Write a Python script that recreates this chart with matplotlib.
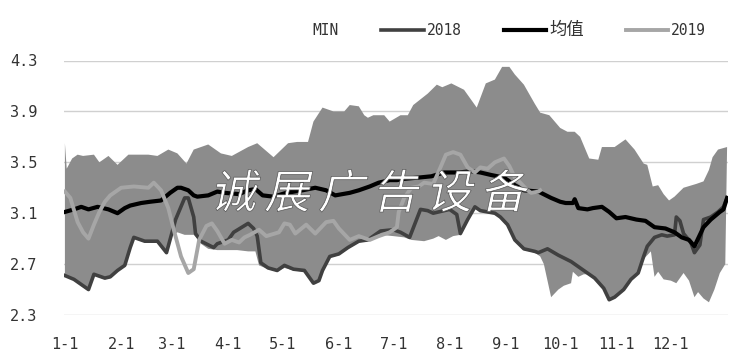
import numpy as np
import matplotlib
matplotlib.use('Agg')
import matplotlib.pyplot as plt
from matplotlib.patches import Patch, PathPatch
from matplotlib.lines import Line2D
from matplotlib.textpath import TextPath
from matplotlib.font_manager import FontProperties
import matplotlib.transforms as mtransforms

plt.rcParams['font.family'] = ['DejaVu Sans Mono', 'Noto Sans CJK SC']

# day of year -> value
max_days = [0, 1, 4, 7, 10, 16, 19, 24, 29, 35, 46, 51, 57, 62, 67, 71, 79, 86, 92, 101, 106,
            115, 123, 128, 134, 137, 142, 148, 154, 157, 162, 165, 167, 170, 176, 179, 185, 189,
            192, 200, 205, 208, 213, 220, 227, 232, 237, 241, 245, 248, 253, 259, 262, 267, 273,
            277, 281, 284, 289, 294, 296, 303, 309, 314, 319, 321, 324, 327, 330, 333, 336, 341,
            348, 352, 355, 357, 360, 365]
max_vals = [3.65, 3.45, 3.53, 3.56, 3.55, 3.56, 3.50, 3.55, 3.48, 3.56, 3.56, 3.55, 3.60, 3.57,
            3.49, 3.60, 3.64, 3.57, 3.55, 3.62, 3.65, 3.54, 3.65, 3.66, 3.66, 3.82, 3.93, 3.90,
            3.90, 3.95, 3.94, 3.87, 3.85, 3.87, 3.87, 3.82, 3.87, 3.87, 3.95, 4.04, 4.11, 4.09,
            4.12, 4.07, 3.93, 4.12, 4.15, 4.25, 4.25, 4.19, 4.11, 3.96, 3.89, 3.87, 3.77, 3.74,
            3.74, 3.70, 3.53, 3.52, 3.62, 3.62, 3.68, 3.60, 3.49, 3.48, 3.31, 3.32, 3.25, 3.20,
            3.23, 3.30, 3.33, 3.35, 3.44, 3.54, 3.60, 3.62]

min_days = [0, 5, 13, 16, 22, 25, 29, 33, 36, 38, 44, 51, 56, 59, 62, 66, 71, 73, 75, 79, 84,
            90, 95, 101, 105, 107, 112, 117, 121, 126, 132, 137, 140, 142, 146, 151, 156, 162,
            167, 174, 181, 187, 191, 198, 203, 206, 210, 214, 218, 222, 226, 229, 233, 237, 240,
            244, 248, 253, 259, 262, 264, 268, 272, 275, 279, 280, 283, 286, 289, 292, 297, 300,
            303, 308, 312, 316, 319, 323, 325, 327, 330, 334, 337, 341, 344, 347, 349, 352, 355,
            358, 361, 364]
min_vals = [2.61, 2.57, 2.49, 2.61, 2.58, 2.59, 2.64, 2.68, 2.82, 2.90, 2.87, 2.87, 2.78, 2.92,
            2.95, 2.93, 2.93, 2.90, 2.86, 2.82, 2.81, 2.81, 2.81, 2.80, 2.80, 2.69, 2.66, 2.64,
            2.67, 2.65, 2.64, 2.54, 2.56, 2.64, 2.75, 2.77, 2.82, 2.87, 2.88, 2.93, 2.92, 2.91,
            2.89, 2.88, 2.90, 2.92, 2.89, 2.92, 2.93, 3.04, 3.14, 3.11, 3.10, 3.09, 3.06, 3.00,
            2.88, 2.81, 2.79, 2.76, 2.70, 2.44, 2.50, 2.53, 2.55, 2.64, 2.60, 2.62, 2.62, 2.58,
            2.50, 2.41, 2.43, 2.49, 2.57, 2.62, 2.74, 2.80, 2.60, 2.64, 2.58, 2.57, 2.55, 2.63,
            2.57, 2.44, 2.48, 2.43, 2.40, 2.50, 2.63, 2.70]

y2018_days = [0, 5, 13, 16, 22, 25, 29, 33, 36, 38, 44, 51, 56, 61, 66, 68, 71, 72, 75, 82, 84,
              90, 93, 101, 104, 106, 108, 112, 117, 121, 126, 132, 137, 140, 142, 146, 151, 156,
              162, 167, 174, 181, 185, 190, 196, 200, 203, 209, 212, 216, 218, 222, 226, 229, 233,
              237, 240, 244, 248, 253, 259, 261, 266, 272, 279, 285, 292, 297, 300, 303, 308, 312,
              316, 319, 321, 325, 329, 332, 336, 337, 339, 341, 345, 347, 350, 352, 356, 360, 363,
              365]
y2018_vals = [2.61, 2.58, 2.50, 2.62, 2.59, 2.60, 2.65, 2.69, 2.83, 2.91, 2.88, 2.88, 2.79, 3.05,
              3.22, 3.22, 3.07, 2.94, 2.88, 2.83, 2.86, 2.89, 2.95, 3.02, 2.98, 2.92, 2.71, 2.67,
              2.65, 2.69, 2.66, 2.65, 2.55, 2.57, 2.65, 2.76, 2.78, 2.83, 2.88, 2.89, 2.96, 2.97,
              2.95, 2.91, 3.13, 3.12, 3.10, 3.12, 3.13, 3.09, 2.94, 3.05, 3.15, 3.12, 3.11, 3.10,
              3.07, 3.01, 2.89, 2.82, 2.80, 2.79, 2.82, 2.77, 2.72, 2.66, 2.59, 2.51, 2.42, 2.44,
              2.50, 2.58, 2.63, 2.76, 2.84, 2.91, 2.93, 2.92, 2.93, 3.07, 3.04, 2.94, 2.87, 2.79,
              2.85, 3.05, 3.07, 3.11, 3.15, 3.22]

mean_days = [0, 5, 9, 13, 18, 24, 29, 33, 36, 42, 47, 53, 58, 62, 64, 68, 71, 73, 79, 84, 88,
             96, 101, 105, 109, 115, 122, 131, 138, 144, 149, 157, 162, 168, 173, 179, 183, 187,
             195, 202, 209, 217, 224, 229, 235, 242, 248, 253, 261, 268, 273, 276, 280, 281, 283,
             288, 291, 296, 300, 304, 309, 315, 320, 325, 331, 336, 340, 344, 347, 349, 352, 356,
             361, 363, 365]
mean_vals = [3.11, 3.13, 3.15, 3.13, 3.15, 3.13, 3.10, 3.14, 3.16, 3.18, 3.19, 3.20, 3.26, 3.30,
             3.30, 3.28, 3.24, 3.23, 3.24, 3.27, 3.26, 3.25, 3.28, 3.29, 3.24, 3.23, 3.26, 3.28,
             3.30, 3.28, 3.24, 3.26, 3.28, 3.31, 3.34, 3.36, 3.36, 3.37, 3.38, 3.39, 3.42, 3.42,
             3.43, 3.42, 3.40, 3.38, 3.32, 3.28, 3.27, 3.22, 3.19, 3.18, 3.18, 3.21, 3.14, 3.13,
             3.14, 3.15, 3.11, 3.06, 3.07, 3.05, 3.04, 2.99, 2.98, 2.95, 2.91, 2.89, 2.84, 2.90,
             2.99, 3.05, 3.11, 3.13, 3.22]

y2019_days = [0, 3, 7, 10, 13, 16, 19, 22, 25, 31, 38, 46, 49, 53, 57, 60, 64, 68, 71, 74, 78,
              81, 84, 88, 92, 96, 99, 102, 107, 111, 118, 121, 124, 127, 133, 138, 144, 148, 151,
              157, 162, 168, 173, 179, 183, 184, 187, 191, 195, 198, 203, 207, 210, 214, 218, 222,
              226, 229, 233, 237, 242, 245, 248, 251, 255, 257, 261, 262]
y2019_vals = [3.27, 3.22, 3.03, 2.95, 2.90, 3.01, 3.11, 3.19, 3.24, 3.30, 3.31, 3.30, 3.34, 3.28,
              3.14, 2.97, 2.76, 2.63, 2.66, 2.89, 3.00, 3.02, 2.96, 2.86, 2.89, 2.87, 2.91, 2.93,
              2.97, 2.92, 2.95, 3.02, 3.01, 2.94, 3.01, 2.94, 3.03, 3.04, 2.98, 2.89, 2.92, 2.89,
              2.92, 2.95, 2.99, 3.11, 3.22, 3.30, 3.31, 3.34, 3.33, 3.46, 3.56, 3.58, 3.56, 3.46,
              3.42, 3.46, 3.45, 3.50, 3.53, 3.47, 3.38, 3.34, 3.28, 3.26, 3.27, 3.28]

month_days = [0, 31, 59, 90, 120, 151, 181, 212, 243, 273, 304, 334]
month_labels = ['1-1', '2-1', '3-1', '4-1', '5-1', '6-1', '7-1', '8-1', '9-1', '10-1', '11-1', '12-1']
y_ticks = [2.3, 2.7, 3.1, 3.5, 3.9, 4.3]

fig = plt.figure(figsize=(7.32, 3.61), dpi=100)
ax = fig.add_axes([64 / 732, 1 - 315 / 361, 664 / 732, 254.5 / 361])

band_x = np.concatenate([max_days, min_days[::-1]])
band_y = np.concatenate([max_vals, min_vals[::-1]])
ax.fill(band_x, band_y, color='#8c8c8c', lw=0, zorder=1)

ax.plot(y2018_days, y2018_vals, color='#404040', lw=2.6, zorder=3)
ax.plot(mean_days, mean_vals, color='black', lw=3.0, zorder=4)
ax.plot(y2019_days, y2019_vals, color='#a6a6a6', lw=2.8, zorder=5)

ax.set_xlim(-0.5, 365.5)
ax.set_ylim(2.3, 4.3)
ax.set_yticks(y_ticks)
ax.set_yticklabels([f'{v:.1f}' for v in y_ticks])
ax.set_xticks(month_days)
ax.set_xticklabels(month_labels)
ax.grid(axis='y', color='#d0d0d0', lw=1)
ax.set_axisbelow(True)
for s in ax.spines.values():
    s.set_visible(False)
ax.tick_params(axis='y', length=0, pad=19, labelsize=11, labelcolor='#333333')
ax.tick_params(axis='x', length=0, pad=16, labelsize=11, labelcolor='#333333')

handles = [Patch(facecolor='white', edgecolor='none'),
           Line2D([], [], color='#404040', lw=2.6),
           Line2D([], [], color='black', lw=3.0),
           Line2D([], [], color='#a6a6a6', lw=2.8)]
labels = ['MIN', '2018', '均值', '2019']
leg = fig.legend(handles, labels, loc='center', bbox_to_anchor=(487 / 732, 1 - 30 / 361), ncol=4,
                 frameon=False, fontsize=10.5, handlelength=2.9, handletextpad=0.2,
                 columnspacing=2.9, labelcolor='#333333')
leg.get_texts()[2].set_fontsize(12.5)

# watermark
fp = FontProperties(family='Noto Sans CJK SC')
for i, ch in enumerate('诚展广告设备'):
    tp = TextPath((0, 0), ch, size=46, prop=fp)
    tr = mtransforms.Affine2D().skew_deg(12, 0).translate(210 + i * 54, 361 - 208)
    fig.patches.append(PathPatch(tp, facecolor='white', edgecolor='#555555', lw=0.5,
                                 transform=tr, figure=fig, zorder=10))

fig.savefig('out.png', dpi=100)
